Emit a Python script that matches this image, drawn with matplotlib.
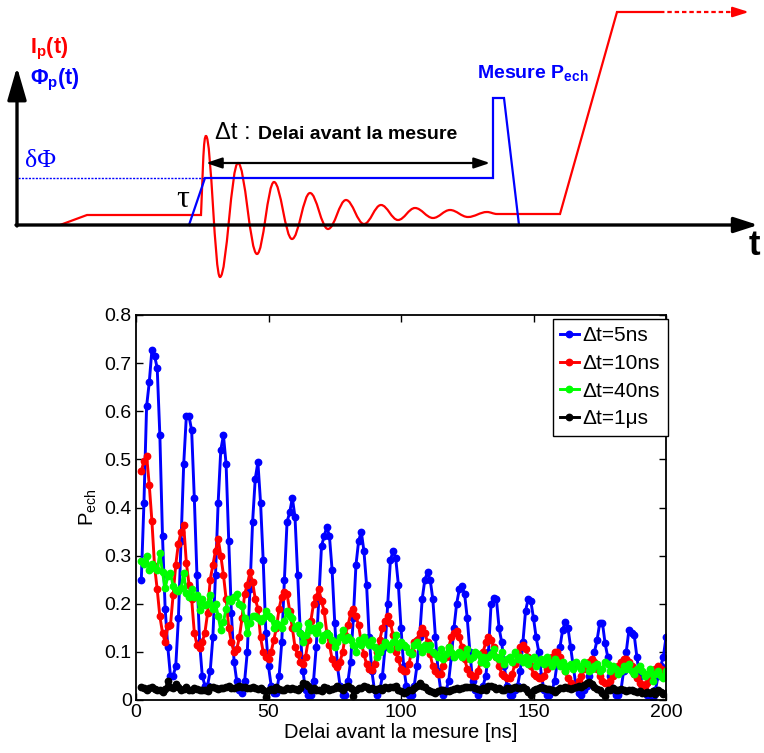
import numpy as np
import matplotlib
matplotlib.use("Agg")
import matplotlib.pyplot as plt
from matplotlib.path import Path
from matplotlib.patches import PathPatch

plt.rcParams['font.family'] = ['Liberation Sans', 'DejaVu Sans']
plt.rcParams['mathtext.fontset'] = 'custom'
plt.rcParams['mathtext.rm'] = 'Liberation Sans'
plt.rcParams['mathtext.bf'] = 'Liberation Sans:bold'
plt.rcParams['mathtext.it'] = 'Liberation Sans:italic'

# ---- measured data, one point per ns starting at 2 ns ----
p_5ns = [0.25, 0.41, 0.61, 0.66, 0.727, 0.715, 0.69, 0.55, 0.34, 0.19, 0.11, 0.05, 0.05, 0.07, 0.17, 0.33,
         0.49, 0.59, 0.59, 0.56, 0.42, 0.26, 0.12, 0.05, 0.03, 0.03, 0.06, 0.13, 0.26, 0.41, 0.52, 0.55,
         0.49, 0.33, 0.18, 0.08, 0.04, 0.02, 0.015, 0.04, 0.10, 0.23, 0.37, 0.46, 0.494, 0.41, 0.29, 0.14,
         0.07, 0.03, 0.014, 0.015, 0.05, 0.12, 0.25, 0.37, 0.39, 0.42, 0.38, 0.26, 0.14, 0.06, 0.02, 0.01,
         0.01, 0.04, 0.11, 0.21, 0.32, 0.34, 0.36, 0.34, 0.27, 0.16, 0.07, 0.03, 0.01, 0.01, 0.04, 0.08,
         0.17, 0.28, 0.33, 0.35, 0.31, 0.24, 0.13, 0.06, 0.02, 0.01, 0.02, 0.05, 0.11, 0.20, 0.29, 0.31,
         0.295, 0.24, 0.15, 0.07, 0.03, 0.01, 0.01, 0.03, 0.07, 0.13, 0.21, 0.25, 0.265, 0.25, 0.21, 0.13,
         0.06, 0.02, 0.01, 0.02, 0.04, 0.09, 0.15, 0.20, 0.23, 0.237, 0.22, 0.17, 0.10, 0.04, 0.02,
         0.01, 0.02, 0.03, 0.05, 0.10, 0.20, 0.212, 0.21, 0.15, 0.12, 0.07, 0.03, 0.01, 0.01, 0.02, 0.03,
         0.06, 0.12, 0.185, 0.21, 0.205, 0.17, 0.13, 0.10, 0.05, 0.02, 0.01, 0.01, 0.02, 0.04, 0.08, 0.11,
         0.146, 0.163, 0.15, 0.11, 0.07, 0.03, 0.015, 0.01, 0.02, 0.03, 0.05, 0.08, 0.10, 0.125, 0.16,
         0.161, 0.118, 0.09, 0.05, 0.02, 0.01, 0.01, 0.02, 0.06, 0.10, 0.145, 0.14, 0.135, 0.09, 0.05,
         0.03, 0.02, 0.01, 0.01, 0.005, 0.02, 0.05, 0.07, 0.09, 0.13]

p_10ns = [0.475, 0.497, 0.508, 0.447, 0.372, 0.278, 0.23, 0.174, 0.14, 0.12, 0.153, 0.155, 0.218, 0.281,
          0.325, 0.349, 0.363, 0.285, 0.24, 0.21, 0.14, 0.115, 0.108, 0.12, 0.14, 0.18, 0.25, 0.28, 0.31,
          0.335, 0.30, 0.26, 0.21, 0.15, 0.12, 0.10, 0.105, 0.13, 0.17, 0.22, 0.24, 0.265, 0.245, 0.21,
          0.19, 0.13, 0.10, 0.09, 0.085, 0.10, 0.125, 0.15, 0.19, 0.215, 0.225, 0.22, 0.185, 0.15, 0.11,
          0.095, 0.08, 0.075, 0.09, 0.125, 0.165, 0.2, 0.215, 0.23, 0.205, 0.185, 0.14, 0.115, 0.085,
          0.075, 0.068, 0.08, 0.1, 0.135, 0.155, 0.18, 0.19, 0.175, 0.155, 0.12, 0.095, 0.075, 0.065,
          0.062, 0.075, 0.1, 0.125, 0.15, 0.165, 0.175, 0.16, 0.135, 0.1, 0.085, 0.065, 0.06, 0.06, 0.075,
          0.1, 0.12, 0.125, 0.14, 0.15, 0.14, 0.12, 0.095, 0.07, 0.06, 0.055, 0.055, 0.07, 0.09, 0.11,
          0.13, 0.14, 0.143, 0.13, 0.11, 0.085, 0.065, 0.055, 0.05, 0.05, 0.06, 0.08, 0.1, 0.12, 0.13,
          0.125, 0.11, 0.09, 0.07, 0.055, 0.05, 0.045, 0.045, 0.055, 0.075, 0.095, 0.11, 0.115, 0.105,
          0.09, 0.07, 0.055, 0.05, 0.045, 0.045, 0.05, 0.065, 0.08, 0.09, 0.1, 0.1, 0.09, 0.075, 0.06,
          0.045, 0.035, 0.03, 0.03, 0.04, 0.05, 0.065, 0.075, 0.08, 0.085, 0.08, 0.065, 0.05, 0.04, 0.035,
          0.035, 0.04, 0.05, 0.06, 0.07, 0.08, 0.085, 0.085, 0.08, 0.07, 0.055, 0.045, 0.035, 0.03, 0.03,
          0.035, 0.045, 0.055, 0.065, 0.07, 0.065, 0.055, 0.05]

p_40ns = [0.289, 0.282, 0.30, 0.27, 0.282, 0.275, 0.27, 0.305, 0.265, 0.232, 0.257, 0.264, 0.236, 0.229,
          0.226, 0.232, 0.264, 0.222, 0.215, 0.23, 0.215, 0.218, 0.187, 0.21, 0.198, 0.2, 0.218, 0.19,
          0.2, 0.175, 0.145, 0.162, 0.19, 0.21, 0.205, 0.215, 0.22, 0.2, 0.195, 0.17, 0.14, 0.16, 0.175,
          0.175, 0.17, 0.165, 0.17, 0.185, 0.175, 0.17, 0.15, 0.16, 0.155, 0.15, 0.165, 0.185, 0.175,
          0.17, 0.15, 0.155, 0.14, 0.12, 0.135, 0.16, 0.145, 0.15, 0.14, 0.155, 0.125, 0.135, 0.14, 0.135,
          0.125, 0.11, 0.12, 0.13, 0.145, 0.125, 0.13, 0.125, 0.115, 0.1, 0.125, 0.115, 0.13, 0.12, 0.115,
          0.125, 0.11, 0.09, 0.1, 0.11, 0.12, 0.115, 0.105, 0.12, 0.135, 0.11, 0.12, 0.115, 0.11, 0.1,
          0.095, 0.115, 0.12, 0.11, 0.1, 0.115, 0.105, 0.115, 0.1, 0.095, 0.09, 0.105, 0.085, 0.095, 0.11,
          0.1, 0.09, 0.095, 0.1, 0.09, 0.095, 0.105, 0.085, 0.09, 0.1, 0.095, 0.08, 0.09, 0.075, 0.09,
          0.095, 0.105, 0.09, 0.085, 0.1, 0.075, 0.085, 0.09, 0.08, 0.1, 0.085, 0.09, 0.08, 0.09, 0.075,
          0.085, 0.09, 0.07, 0.08, 0.085, 0.075, 0.09, 0.08, 0.07, 0.085, 0.08, 0.07, 0.08, 0.06, 0.07,
          0.075, 0.065, 0.08, 0.07, 0.065, 0.08, 0.075, 0.06, 0.065, 0.07, 0.075, 0.06, 0.065, 0.08, 0.075,
          0.06, 0.07, 0.065, 0.055, 0.06, 0.07, 0.065, 0.075, 0.06, 0.055, 0.065, 0.07, 0.06, 0.05, 0.055,
          0.065, 0.04, 0.055, 0.06, 0.05, 0.045, 0.06]

p_1us = [0.028, 0.025, 0.021, 0.024, 0.026, 0.022, 0.02, 0.021, 0.016, 0.022, 0.039, 0.028, 0.025, 0.033,
         0.026, 0.02, 0.022, 0.027, 0.021, 0.02, 0.024, 0.022, 0.02, 0.021, 0.02, 0.019, 0.027, 0.027,
         0.025, 0.022, 0.025, 0.024, 0.026, 0.029, 0.024, 0.025, 0.026, 0.03, 0.027, 0.027, 0.025, 0.024,
         0.026, 0.025, 0.022, 0.024, 0.021, 0.007, 0.02, 0.022, 0.021, 0.026, 0.023, 0.02, 0.021, 0.024,
         0.022, 0.025, 0.022, 0.02, 0.024, 0.036, 0.034, 0.03, 0.02, 0.025, 0.02, 0.021, 0.018, 0.026,
         0.024, 0.021, 0.022, 0.025, 0.03, 0.024, 0.021, 0.028, 0.03, 0.025, 0.009, 0.02, 0.024, 0.025,
         0.03, 0.027, 0.022, 0.025, 0.02, 0.022, 0.024, 0.021, 0.026, 0.024, 0.028, 0.027, 0.03, 0.02,
         0.018, 0.015, 0.016, 0.02, 0.021, 0.024, 0.03, 0.036, 0.03, 0.026, 0.02, 0.018, 0.016, 0.014,
         0.018, 0.02, 0.021, 0.019, 0.018, 0.02, 0.022, 0.024, 0.023, 0.025, 0.027, 0.026, 0.028, 0.027,
         0.024, 0.022, 0.02, 0.024, 0.02, 0.03, 0.03, 0.027, 0.022, 0.025, 0.021, 0.02, 0.024, 0.022,
         0.025, 0.028, 0.025, 0.024, 0.027, 0.022, 0.016, 0.01, 0.02, 0.022, 0.025, 0.027, 0.025, 0.023,
         0.022, 0.02, 0.016, 0.021, 0.024, 0.025, 0.026, 0.024, 0.022, 0.025, 0.028, 0.03, 0.027, 0.032,
         0.036, 0.038, 0.034, 0.026, 0.022, 0.02, 0.015, 0.008, 0.02, 0.02, 0.024, 0.021, 0.02, 0.022,
         0.02, 0.018, 0.02, 0.021, 0.019, 0.016, 0.018, 0.015, 0.014, 0.017, 0.014, 0.018, 0.013, 0.02,
         0.017, 0.013, 0.015]

series = [(p_5ns, 'b', 'Δt=5ns'), (p_10ns, 'r', 'Δt=10ns'),
          (p_40ns, '#00ff00', 'Δt=40ns'), (p_1us, 'k', 'Δt=1μs')]
y_ticks = [0, 0.1, 0.2, 0.3, 0.4, 0.5, 0.6, 0.7, 0.8]
y_tick_labels = ['0', '0.1', '0.2', '0.3', '0.4', '0.5', '0.6', '0.7', '0.8']
x_ticks = [0, 50, 100, 150, 200]

# ---- schematic (pixel coordinates of the drawing) ----
flux_x = [189, 205, 493, 493, 504, 519]
flux_y = [225, 178, 178, 98, 98, 225]
# extrema of the ringing current after the flux step
ring_x = [206, 220, 238, 257, 274, 292, 310, 328, 346, 364, 381, 398, 415, 433, 450, 468, 487, 497]
ring_y = [136, 277, 163, 254, 182, 239, 193, 229, 200, 224, 205, 220, 208, 218, 210, 217, 212, 214]
ramp_x = [497, 560, 617, 660]
ramp_y = [214, 214, 12, 12]

W, H = 764, 753
fig = plt.figure(figsize=(W / 100, H / 100), dpi=100)

sk = fig.add_axes([0, 0, 1, 1])
sk.set_xlim(0, W)
sk.set_ylim(H, 0)
sk.axis('off')
sk.patch.set_visible(False)

def arrow(ax, start, end, lw, hl, hw, style='-|>', color='k', ls='-'):
    ax.annotate('', xy=end, xytext=start,
                arrowprops=dict(arrowstyle=f'{style},head_length={hl},head_width={hw}',
                                lw=lw, color=color, linestyle=ls,
                                shrinkA=0, shrinkB=0, mutation_scale=10))

# axes of the schematic
arrow(sk, (17, 226), (17, 67), 2.4, 2.0, 0.58)
arrow(sk, (16, 225), (758, 225), 2.4, 1.45, 0.47)

# flux pulse
sk.plot([18, 205], [178, 178], color='b', lw=1.0, ls=(0, (1.5, 1.0)))
sk.plot(flux_x, flux_y, color='b', lw=1.6, solid_joinstyle='miter')

# current: plateau, spike and ringing drawn with bezier curves
verts = [(60, 225), (87, 215), (201, 215), (203, 165)]
codes = [Path.MOVETO, Path.LINETO, Path.LINETO, Path.LINETO]
verts += [(204, 140), (205, 136), (ring_x[0], ring_y[0])]
codes += [Path.CURVE4] * 3
for i in range(len(ring_x) - 1):
    x0, y0, x1, y1 = ring_x[i], ring_y[i], ring_x[i + 1], ring_y[i + 1]
    d = x1 - x0
    verts += [(x0 + 0.37 * d, y0), (x1 - 0.37 * d, y1), (x1, y1)]
    codes += [Path.CURVE4] * 3
for x, y in zip(ramp_x[1:], ramp_y[1:]):
    verts.append((x, y))
    codes.append(Path.LINETO)
sk.add_patch(PathPatch(Path(verts, codes), fill=False, edgecolor='r', lw=1.6))
sk.plot([660, 742], [12, 12], color='r', lw=1.6, ls=(0, (2, 1.3)))
arrow(sk, (738, 12), (749, 12), 1.6, 0.95, 0.3, color='r')

# delay arrow
arrow(sk, (206, 163), (490, 163), 1.6, 0.95, 0.32, style='<|-|>')

sk.text(30, 49, r'$\mathbf{I_p(t)}$', color='r', fontsize=15.5, va='center', ha='left')
sk.text(30, 80, r'$\mathbf{Φ_p(t)}$', color='b', fontsize=15.5, va='center', ha='left')
sk.text(25, 161, 'δΦ', color='b', fontsize=18.5, family=['Liberation Serif', 'DejaVu Serif'],
        va='center', ha='left')
sk.text(176, 199, 'τ', color='k', fontsize=23, family=['Liberation Serif', 'DejaVu Serif'],
        va='center', ha='left')
sk.text(215, 133, 'Δt :', color='k', fontsize=17, va='center', ha='left')
sk.text(258, 134, 'Delai avant la mesure', color='k', fontsize=14, fontweight='bold',
        va='center', ha='left')
sk.text(477, 73, r'$\mathbf{Mesure\ P_{ech}}$', color='b', fontsize=14, va='center', ha='left')
sk.text(749, 245, 't', color='k', fontsize=25, fontweight='bold', va='center', ha='left')

# ---- measurement plot ----
ax = fig.add_axes([136 / W, 53 / H, 530 / W, 385 / H])
for vals, col, lab in series:
    tt = np.arange(2, 2 + len(vals))
    ax.plot(tt, vals, '-o', color=col, lw=2.1, ms=4.6, label=lab)

ax.set_xlim(0, 200)
ax.set_ylim(0, 0.8)
ax.set_xticks(x_ticks)
ax.set_yticks(y_ticks)
ax.set_yticklabels(y_tick_labels)
ax.tick_params(direction='in', top=True, right=True, length=5, width=1, labelsize=14, pad=3)
for s in ax.spines.values():
    s.set_linewidth(1.3)
ax.set_xlabel('Delai avant la mesure [ns]', fontsize=14.5, labelpad=1)
ax.set_ylabel(r'$\mathrm{P_{ech}}$', fontsize=14.5, labelpad=4)

leg = ax.legend(loc='upper right', bbox_to_anchor=(1.003, 0.99), fontsize=15, numpoints=1,
                handlelength=0.9, handletextpad=0.2, labelspacing=0.42, borderpad=0.35,
                borderaxespad=0, fancybox=False, framealpha=1, edgecolor='k')
leg.get_frame().set_linewidth(1.0)

fig.savefig('out.png', dpi=100)
